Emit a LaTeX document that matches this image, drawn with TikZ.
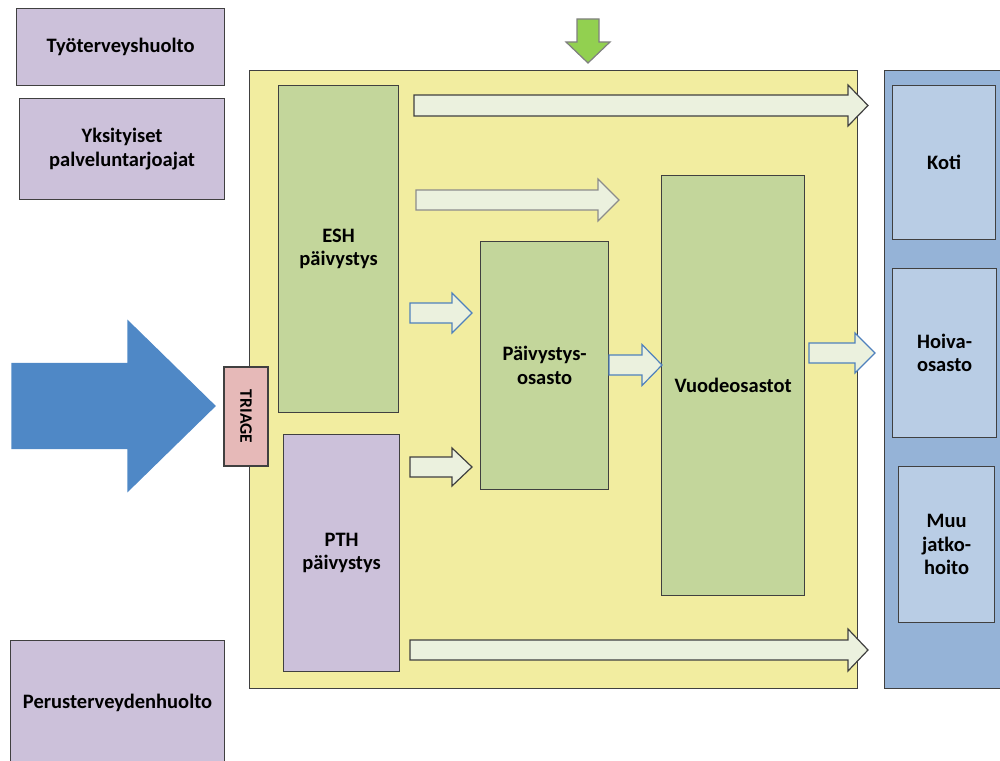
\documentclass[tikz,border=0pt]{standalone}
\usepackage{fontspec}
\setmainfont{Carlito}
\usetikzlibrary{positioning}

\definecolor{lavfill}{HTML}{CCC1DA}
\definecolor{greenfill}{HTML}{C3D69B}
\definecolor{yellowfill}{HTML}{F2EDA0}
\definecolor{panelfill}{HTML}{95B3D7}
\definecolor{targetfill}{HTML}{B9CDE5}
\definecolor{pinkfill}{HTML}{E6B9B8}
\definecolor{flowfill}{HTML}{EBF1DE}
\definecolor{bigblue}{HTML}{4F88C6}
\definecolor{arrowblue}{HTML}{4F81BD}
\definecolor{greenarrow}{HTML}{92D050}

% block arrow: [style]{x start}{x tip}{y centre}{shaft half}{head half}{head length}
\newcommand{\blockarrow}[7][]{%
  \draw[flow,#1] (#2,#4-#5) -- (#3-#7,#4-#5) -- (#3-#7,#4-#6) -- (#3,#4)
    -- (#3-#7,#4+#6) -- (#3-#7,#4+#5) -- (#2,#4+#5) -- cycle;}

\begin{document}
\begin{tikzpicture}[x=1pt, y=-1pt,
    box/.style={draw=black!75, line width=1.2pt, align=center, anchor=north west, inner sep=0pt,
      font=\fontsize{20.5}{23.5}\selectfont\bfseries},
    flow/.style={draw=black!75, line width=1.2pt, fill=flowfill, line join=miter}
]
\useasboundingbox (0,0) rectangle (1000,760);

% background areas
\node[box, fill=yellowfill, minimum width=608pt, minimum height=618pt] (main) at (249,70) {};
\node[box, fill=panelfill, minimum width=130pt, minimum height=618pt] (panel) at (884,70) {};

% sources
\node[box, fill=lavfill, minimum width=208pt, minimum height=77pt] (tyo) at (16,8) {Työterveyshuolto};
\node[box, fill=lavfill, minimum width=205pt, minimum height=101pt] (yks) at (19,98) {Yksityiset\\palveluntarjoajat};
\node[box, fill=lavfill, minimum width=214pt, minimum height=125pt] (perus) at (10,640) {Perusterveydenhuolto};

% units
\node[box, fill=greenfill, minimum width=120pt, minimum height=327pt] (esh) at (278,85) {ESH\\päivystys};
\node[box, fill=lavfill, minimum width=116pt, minimum height=237pt] (pth) at (283,434) {PTH\\päivystys};
\node[box, fill=greenfill, minimum width=128pt, minimum height=248pt] (posasto) at (480,241) {Päivystys-\\osasto};
\node[box, fill=greenfill, minimum width=143pt, minimum height=420pt] (vuode) at (661,175) {Vuodeosastot};

% destinations
\node[box, fill=targetfill, minimum width=103pt, minimum height=154pt] (koti) at (892,85) {Koti};
\node[box, fill=targetfill, minimum width=104pt, minimum height=169pt] (hoiva) at (892,268) {Hoiva-\\osasto};
\node[box, fill=targetfill, minimum width=96pt, minimum height=156pt] (muu) at (898,466) {Muu\\jatko-\\hoito};

% incoming
\blockarrow[fill=bigblue, draw=bigblue]{12}{215}{406}{42.5}{85}{87}
\node[box, fill=pinkfill, anchor=center, rotate=-90, minimum width=99pt, minimum height=44pt,
  font=\fontsize{17.5}{20}\selectfont\bfseries] (triage) at (246,416.5) {TRIAGE};
\draw[flow, fill=greenarrow, draw=black!50] (577,19) -- (599,19) -- (599,42) -- (610,42)
  -- (588,63) -- (566,42) -- (577,42) -- cycle;

% flows
\blockarrow{414}{868}{105.5}{10.5}{20.5}{20}
\blockarrow[draw=black!45]{416}{619}{200}{10}{21}{21}
\blockarrow[draw=arrowblue]{410}{472}{313}{10}{20}{20}
\blockarrow{410}{472}{467}{10}{19}{20}
\blockarrow[draw=arrowblue]{609}{662}{365}{10}{20.5}{20}
\blockarrow[draw=arrowblue]{809}{875}{353}{10}{20}{20}
\blockarrow{410}{868}{650}{10}{21}{20}
\end{tikzpicture}
\end{document}
